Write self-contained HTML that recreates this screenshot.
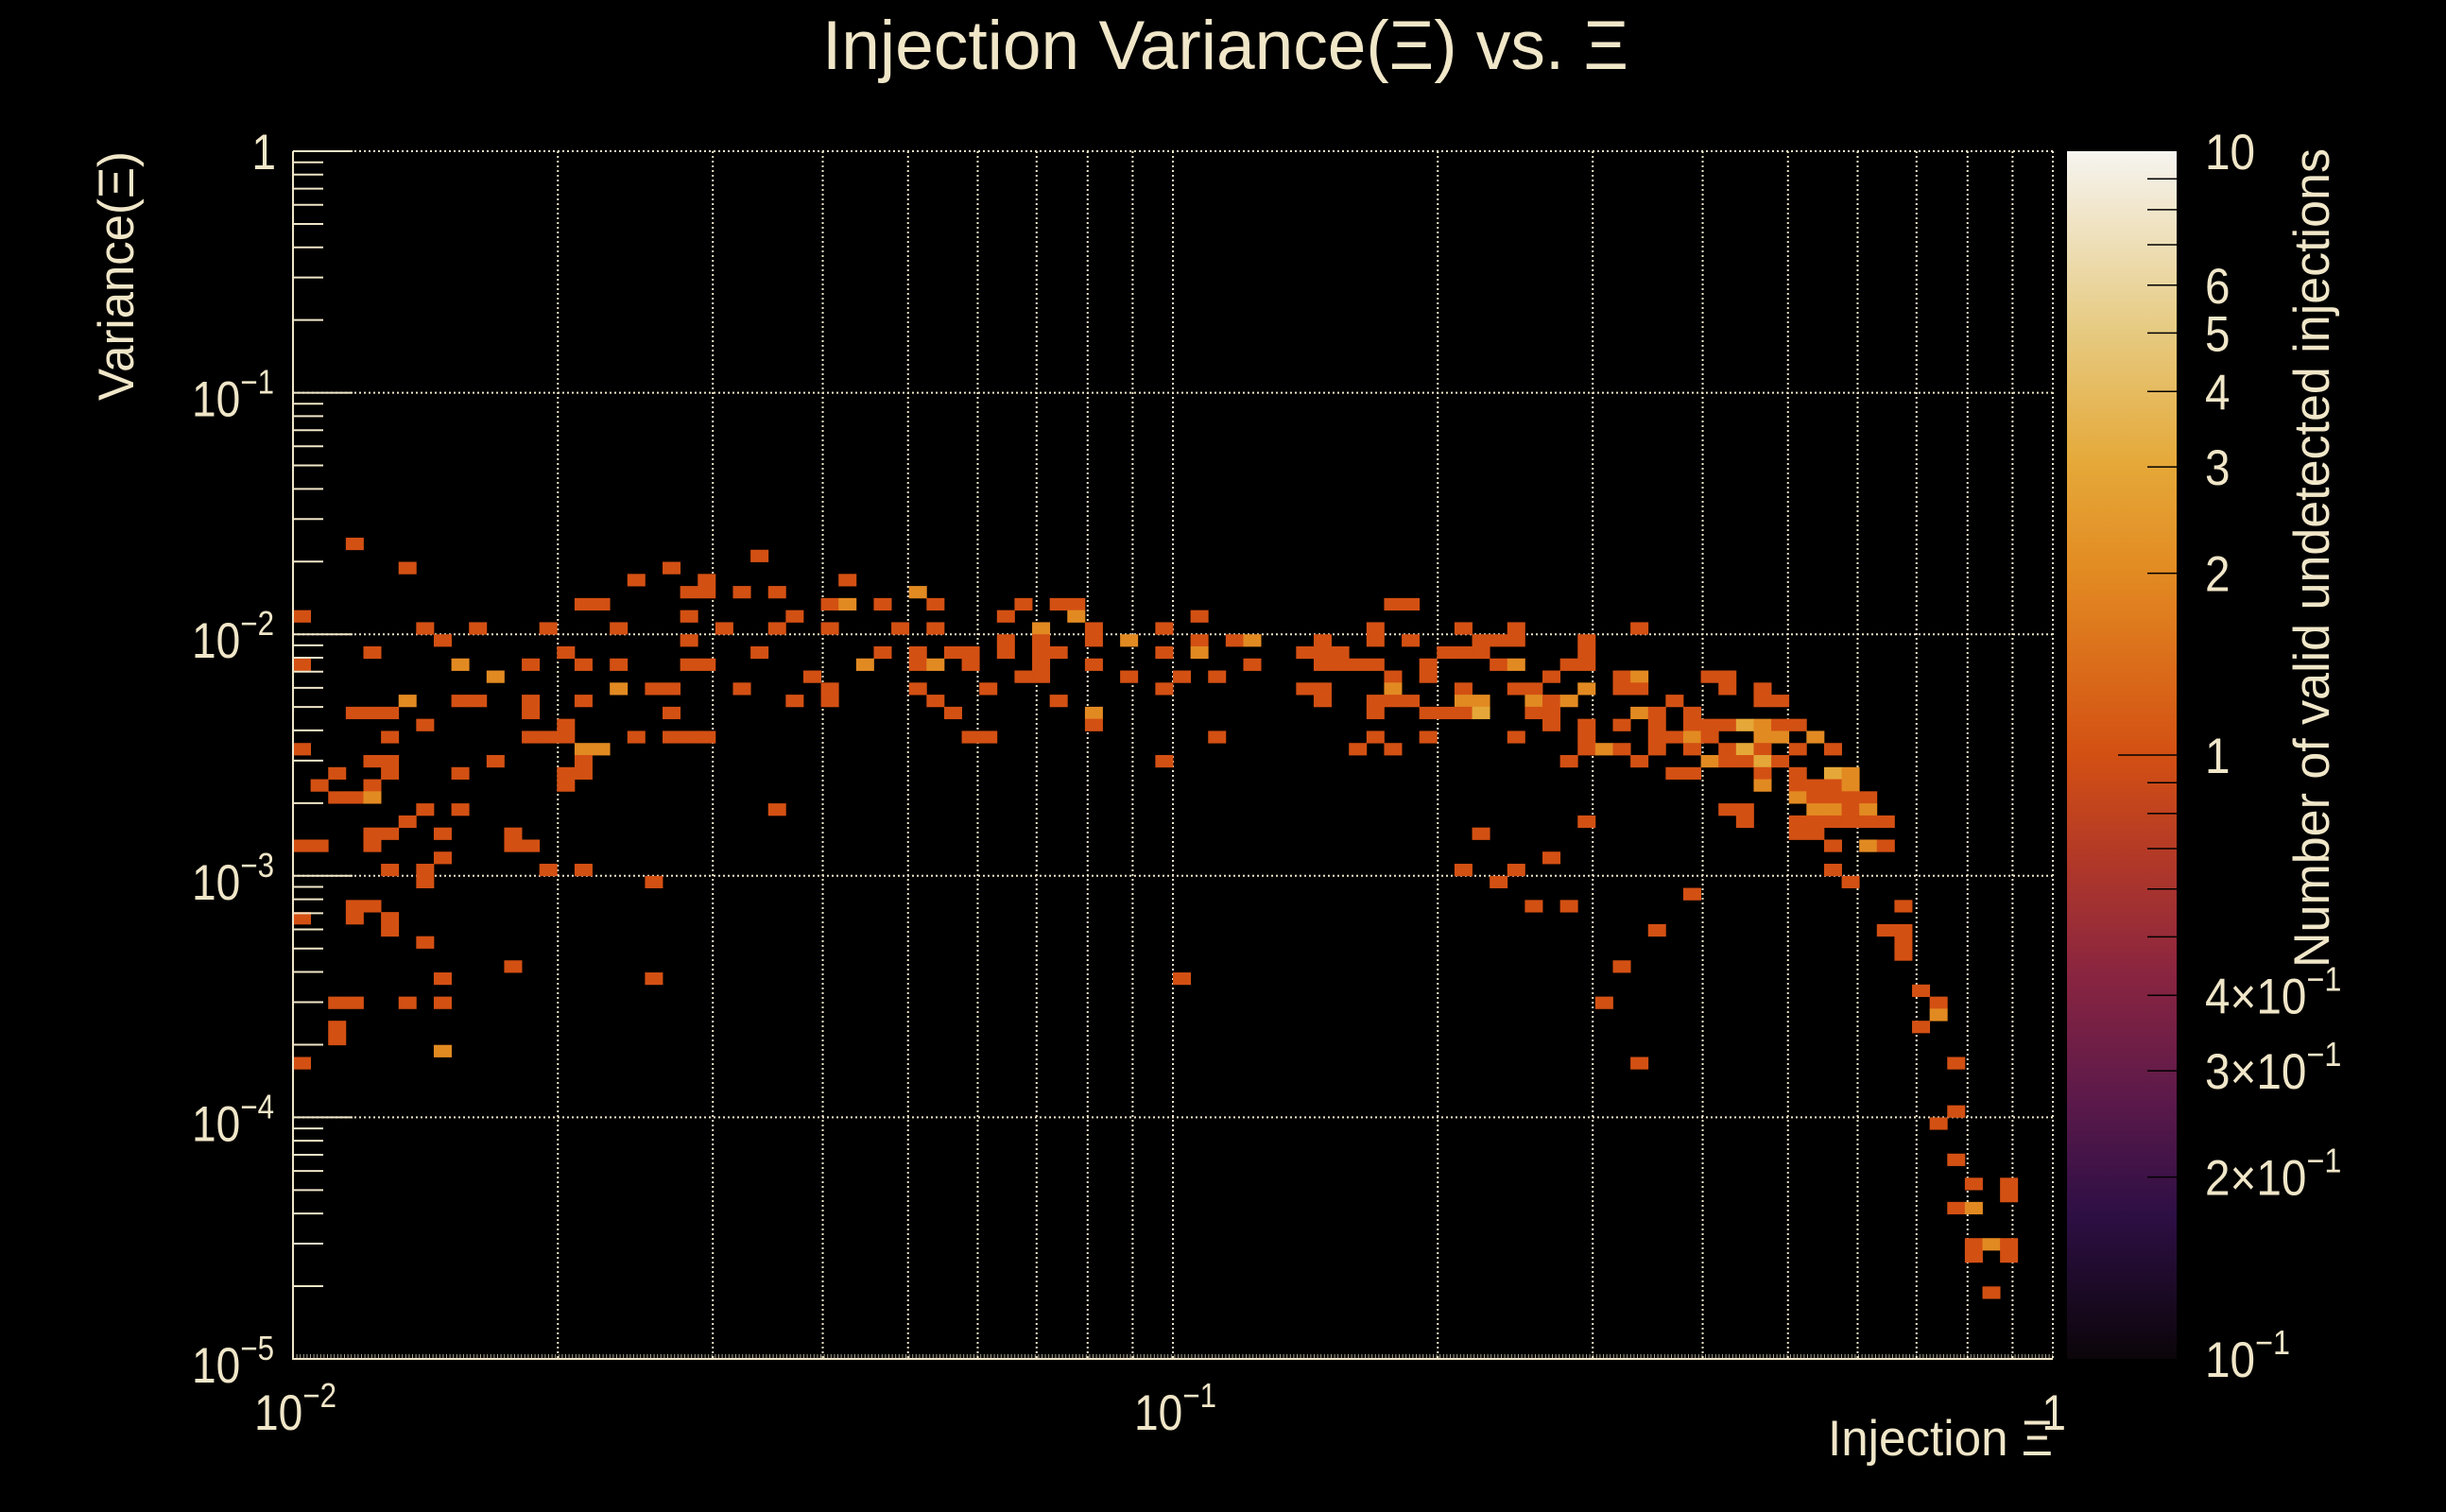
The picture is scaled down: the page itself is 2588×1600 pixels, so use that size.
<!DOCTYPE html>
<html><head><meta charset="utf-8">
<style>
html,body{margin:0;padding:0;background:#000;}
svg{display:block;}
text{font-family:"Liberation Sans",sans-serif;fill:#f0e6c8;}
</style></head>
<body>
<svg id="chart" width="2588" height="1600" viewBox="0 0 2588 1600" xmlns="http://www.w3.org/2000/svg">
<rect x="0" y="0" width="2588" height="1600" fill="#000"/>
<defs>
<linearGradient id="cbgrad" x1="0" y1="1" x2="0" y2="0">
<stop offset="0" stop-color="#0b0509"/><stop offset="0.12" stop-color="#2e0f45"/><stop offset="0.22" stop-color="#5e1a4a"/><stop offset="0.32" stop-color="#8a2540"/><stop offset="0.42" stop-color="#b43a26"/><stop offset="0.5" stop-color="#d35013"/><stop offset="0.65" stop-color="#e28a22"/><stop offset="0.74" stop-color="#e5a838"/><stop offset="0.85" stop-color="#e6ca80"/><stop offset="1" stop-color="#f6f4f0"/>
</linearGradient>
</defs>
<g id="grid"></g>
<g id="cells"></g>
<g id="axes"></g>
<rect x="2187" y="160" width="116" height="1278" fill="url(#cbgrad)"/>
<g id="cbticks"></g>
<text x="870" y="73" font-size="73" textLength="853" lengthAdjust="spacingAndGlyphs">Injection Variance(Ξ) vs. Ξ</text>
<text x="1934" y="1540" font-size="53" textLength="238" lengthAdjust="spacingAndGlyphs">Injection Ξ</text>
<text transform="translate(141,160) rotate(-90)" text-anchor="end" font-size="53" textLength="264" lengthAdjust="spacingAndGlyphs">Variance(Ξ)</text>
<text transform="translate(2464,157) rotate(-90)" text-anchor="end" font-size="53" textLength="867" lengthAdjust="spacingAndGlyphs">Number of valid undetected injections</text>
</svg>
<script>
// ---- data: heatmap bins (100 log bins in x over [1e-2,1], 100 log bins in y over [1e-5,1]) ----
const binX = [
3,
26,
6,21,
19,23,31,
22,23,25,27,35,
16,17,30,31,33,36,41,43,44,62,63,
0,22,28,40,44,51,
7,10,14,18,24,27,30,34,36,42,45,49,61,66,69,76,
8,22,40,42,45,47,51,53,54,58,61,63,67,68,69,73,
4,15,26,33,35,37,38,40,42,43,49,51,57,58,59,65,66,67,73,
0,9,13,16,18,22,23,32,35,36,38,42,45,54,58,59,60,61,64,68,69,72,73,
11,29,41,42,47,50,52,62,64,71,75,76,80,81,
18,20,21,25,30,35,39,49,57,58,62,66,69,70,73,75,76,81,83,
6,9,10,13,16,28,30,36,43,58,61,62,63,66,67,70,71,72,78,83,84,
3,4,5,13,21,37,45,61,64,65,66,67,70,71,76,77,79,
7,15,45,71,73,75,77,79,80,81,82,83,84,85,
5,13,14,15,19,21,22,23,38,39,52,61,64,69,73,77,78,79,80,83,84,86,
0,16,17,60,62,73,74,75,77,79,81,82,83,85,87,
4,5,11,16,49,72,76,80,81,82,83,84,
2,5,9,15,16,78,79,83,85,87,88,
1,4,15,83,85,86,87,88,
2,3,4,85,86,87,88,89,
7,9,27,81,82,86,87,88,89,
6,73,82,85,86,87,88,89,90,
4,5,8,12,67,85,86,
0,1,4,12,13,87,89,90,
8,71,
5,7,14,16,66,69,87,
7,20,68,88,
79,
3,4,70,72,91,
0,3,5,
5,77,90,91,
7,91,
91,
12,75,
8,20,50,
92,
2,3,6,8,74,93,
93,
2,92,
2,
8,
0,76,94,
94,
93,
94,
95,97,
97,
94,95,
95,96,97,
95,97,
96
];
const binY = [
67,
66,
65,65,
64,64,64,
63,63,63,63,63,
62,62,62,62,62,62,62,62,62,62,62,
61,61,61,61,61,61,
60,60,60,60,60,60,60,60,60,60,60,60,60,60,60,60,
59,59,59,59,59,59,59,59,59,59,59,59,59,59,59,59,
58,58,58,58,58,58,58,58,58,58,58,58,58,58,58,58,58,58,58,
57,57,57,57,57,57,57,57,57,57,57,57,57,57,57,57,57,57,57,57,57,57,57,
56,56,56,56,56,56,56,56,56,56,56,56,56,56,
55,55,55,55,55,55,55,55,55,55,55,55,55,55,55,55,55,55,55,
54,54,54,54,54,54,54,54,54,54,54,54,54,54,54,54,54,54,54,54,54,
53,53,53,53,53,53,53,53,53,53,53,53,53,53,53,53,53,
52,52,52,52,52,52,52,52,52,52,52,52,52,52,
51,51,51,51,51,51,51,51,51,51,51,51,51,51,51,51,51,51,51,51,51,51,
50,50,50,50,50,50,50,50,50,50,50,50,50,50,50,
49,49,49,49,49,49,49,49,49,49,49,49,
48,48,48,48,48,48,48,48,48,48,48,
47,47,47,47,47,47,47,47,
46,46,46,46,46,46,46,46,
45,45,45,45,45,45,45,45,45,
44,44,44,44,44,44,44,44,44,
43,43,43,43,43,43,43,
42,42,42,42,42,42,42,42,
41,41,
40,40,40,40,40,40,40,
39,39,39,39,
38,
37,37,37,37,37,
36,36,36,
35,35,35,35,
34,34,
33,
32,32,
31,31,31,
30,
29,29,29,29,29,29,
28,
27,27,
26,
25,
24,24,24,
20,
19,
16,
14,14,
13,
12,12,
9,9,9,
8,8,
5
];
const binCount = [
1,
1,
1,1,
1,1,1,
1,1,1,1,2,
1,1,1,2,1,1,1,1,1,1,1,
1,1,1,1,2,1,
1,1,1,1,1,1,1,1,1,2,1,1,1,1,1,1,
1,1,1,1,1,2,1,1,2,1,1,1,1,1,1,1,
1,1,1,1,1,1,1,1,1,1,1,2,1,1,1,1,1,1,1,
1,2,1,1,1,1,1,2,1,2,1,1,1,1,1,1,1,1,1,1,2,1,1,
2,1,1,1,1,1,1,1,1,1,1,2,1,1,
2,1,1,1,1,1,1,1,1,1,2,1,1,1,2,1,1,1,1,
2,1,1,1,1,1,1,1,1,1,1,1,1,2,2,2,1,2,1,1,1,
1,1,1,1,1,1,2,1,1,1,1,3,1,1,2,1,1,
1,1,1,1,1,1,1,1,1,1,3,2,1,1,
1,1,1,1,1,1,1,1,1,1,1,1,1,1,1,1,1,2,1,2,2,2,
1,2,2,1,1,1,2,1,1,1,1,3,1,1,1,
1,1,1,1,1,1,1,2,1,1,3,1,
1,1,1,1,1,1,1,1,1,3,2,
1,1,1,2,1,1,1,2,
1,1,2,2,1,1,1,1,
1,1,1,1,1,2,2,1,2,
1,1,1,1,1,1,1,1,1,
1,1,1,1,1,1,1,
1,1,1,1,1,1,2,1,
1,1,
1,1,1,1,1,1,1,
1,1,1,1,
1,
1,1,1,1,1,
1,1,1,
1,1,1,1,
1,1,
1,
1,1,
1,1,1,
1,
1,1,1,1,1,1,
2,
1,1,
1,
2,
1,1,1,
1,
1,
1,
1,1,
1,
1,2,
1,2,1,
1,1,
1
];
const xTickDecades = [-2, -1, 0];
const yTickDecades = [-5, -4, -3, -2, -1, 0];
const cbLabelValues = [10, 6, 5, 4, 3, 2, 1, 0.4, 0.3, 0.2, 0.1];
const cbLabelTexts = ["10", "6", "5", "4", "3", "2", "1", "4×10", "3×10", "2×10", "10"];
const cbLabelSups = ["", "", "", "", "", "", "", "−1", "−1", "−1", "−1"];

// ---- geometry ----
const PX0 = 310, PX1 = 2172, PY0 = 160, PY1 = 1438;
const XMIN = -2, XMAX = 0, YMIN = -5, YMAX = 0, NBX = 100, NBY = 100;
const CBX0 = 2187, CBX1 = 2303;
const CREAM = "#f0e6c8";
function xPos(logv) { return PX0 + (logv - XMIN) / (XMAX - XMIN) * (PX1 - PX0); }
function yPos(logv) { return PY1 - (logv - YMIN) / (YMAX - YMIN) * (PY1 - PY0); }
function cbPos(v) { return PY1 - (Math.log10(v) + 1) / 2 * (PY1 - PY0); }
const stops = [[0,[11,5,9]],[0.12,[46,15,69]],[0.22,[94,26,74]],[0.32,[138,37,64]],[0.42,[180,58,38]],[0.5,[211,80,19]],[0.65,[226,138,34]],[0.74,[229,168,56]],[0.85,[230,202,128]],[1,[246,244,240]]];
function colorFor(v) {
  let f = (Math.log10(v) + 1) / 2; f = Math.max(0, Math.min(1, f));
  for (let i = 1; i < stops.length; i++) {
    if (f <= stops[i][0]) {
      const a = stops[i-1], b = stops[i], t = (f - a[0]) / (b[0] - a[0]);
      const c = a[1].map((q, k) => Math.round(q + (b[1][k] - q) * t));
      return "rgb(" + c.join(",") + ")";
    }
  }
  return "rgb(246,244,240)";
}
const NS = "http://www.w3.org/2000/svg";
function mk(tag, attrs, parent) {
  const e = document.createElementNS(NS, tag);
  for (const k in attrs) e.setAttribute(k, attrs[k]);
  parent.appendChild(e); return e;
}
const gGrid = document.getElementById("grid");
const gCells = document.getElementById("cells");
const gAxes = document.getElementById("axes");
const gCb = document.getElementById("cbticks");
const svg = document.getElementById("chart");

// ---- grid ----
for (let d = XMIN; d < XMAX; d++) {
  for (let m = 1; m <= 9; m++) {
    if (d === XMIN && m === 1) continue;
    const x = xPos(d + Math.log10(m));
    const ln = mk("line", {x1: x, x2: x, y1: PY0, y2: PY1, stroke: CREAM, "stroke-width": 2, "stroke-dasharray": "2 3"}, gGrid);
    
    
  }
}
{
  const ln = mk("line", {x1: PX1, x2: PX1, y1: PY0, y2: PY1, stroke: CREAM, "stroke-width": 2, "stroke-dasharray": "2 3"}, gGrid);
  
  
}
for (let d = YMIN + 1; d <= YMAX; d++) {
  const y = yPos(d);
  const ln = mk("line", {x1: PX0, x2: PX1, y1: y, y2: y, stroke: CREAM, "stroke-width": 2, "stroke-dasharray": "2 3"}, gGrid);
  
  
}

// ---- cells ----
for (let i = 0; i < binX.length; i++) {
  const lx0 = XMIN + binX[i] * (XMAX - XMIN) / NBX, lx1 = XMIN + (binX[i] + 1) * (XMAX - XMIN) / NBX;
  const ly0 = YMIN + binY[i] * (YMAX - YMIN) / NBY, ly1 = YMIN + (binY[i] + 1) * (YMAX - YMIN) / NBY;
  const x0 = xPos(lx0), x1 = xPos(lx1), y0 = yPos(ly1), y1 = yPos(ly0);
  const r = mk("rect", {x: x0.toFixed(2), y: y0.toFixed(2), width: (x1 - x0 + 0.4).toFixed(2), height: (y1 - y0 + 0.4).toFixed(2), fill: colorFor(binCount[i])}, gCells);
  
  
}

// ---- axes ----
{
  const a1 = mk("line", {x1: PX0, x2: PX0, y1: PY0, y2: PY1 + 1, stroke: CREAM, "stroke-width": 2}, gAxes);
  
  
  const a2 = mk("line", {x1: PX0, x2: PX1, y1: PY1, y2: PY1, stroke: CREAM, "stroke-width": 2}, gAxes);
  
  
  const a3 = mk("line", {x1: PX0, x2: PX1, y1: PY1 - 3, y2: PY1 - 3, stroke: CREAM, "stroke-width": 4, "stroke-dasharray": "1 2.6", opacity: 0.7}, gAxes);
  
  
}
for (let d = YMIN; d <= YMAX; d++) {
  for (let m = 1; m <= 9; m++) {
    if (d === YMAX && m > 1) break;
    const y = yPos(d + Math.log10(m));
    const len = m === 1 ? 63 : 32;
    const t = mk("line", {x1: PX0, x2: PX0 + len, y1: y, y2: y, stroke: CREAM, "stroke-width": 2}, gAxes);
    
    
  }
}
function powLabel(parent, xRight, baseY, base, sup, name) {
  const g = mk("g", {transform: "translate(" + xRight + "," + baseY + ") scale(0.87,1)"}, parent);
  
  
  const t = mk("text", {x: 0, y: 0, "font-size": 53, "text-anchor": "end"}, g);
  if (sup) {
    const ts = document.createElementNS(NS, "tspan"); ts.textContent = base; t.appendChild(ts);
    const tp = document.createElementNS(NS, "tspan"); tp.setAttribute("font-size", 36); tp.setAttribute("dy", -24); tp.textContent = sup; t.appendChild(tp);
  } else { t.textContent = base; }
  return t;
}
// y tick labels
for (const d of yTickDecades) {
  const y = yPos(d);
  if (d === 0) powLabel(gAxes, 292, y + 19, "1", "", "y-tick-label");
  else powLabel(gAxes, 290, y + 25, "10", "−" + (-d), "y-tick-label");
}
// x tick labels
for (const d of xTickDecades) {
  const x = xPos(d);
  if (d === 0) powLabel(gAxes, x + 14, 1513, "1", "", "x-tick-label");
  else powLabel(gAxes, x + 46, 1513, "10", "−" + (-d), "x-tick-label");
}

// ---- color bar ticks & labels ----
for (let d = -1; d <= 0; d++) {
  for (let m = 1; m <= 9; m++) {
    const v = m * Math.pow(10, d);
    if (v <= 0.1) continue;
    const y = cbPos(v);
    const x0 = v === 1 ? 2241 : 2272;
    const t = mk("line", {x1: x0, x2: CBX1, y1: y, y2: y, stroke: "#000", "stroke-width": 1.5}, gCb);
    
    
  }
}
for (let i = 0; i < cbLabelValues.length; i++) {
  const y = cbPos(cbLabelValues[i]);
  const g = mk("g", {transform: "translate(2333," + (y + 19) + ") scale(0.9,1)"}, gCb);
  
  
  const t = mk("text", {x: 0, y: 0, "font-size": 53}, g);
  const ts = document.createElementNS(NS, "tspan"); ts.textContent = cbLabelTexts[i]; t.appendChild(ts);
  if (cbLabelSups[i]) {
    const tp = document.createElementNS(NS, "tspan"); tp.setAttribute("font-size", 36); tp.setAttribute("dy", -24); tp.textContent = cbLabelSups[i]; t.appendChild(tp);
  }
}
</script>
</body></html>
